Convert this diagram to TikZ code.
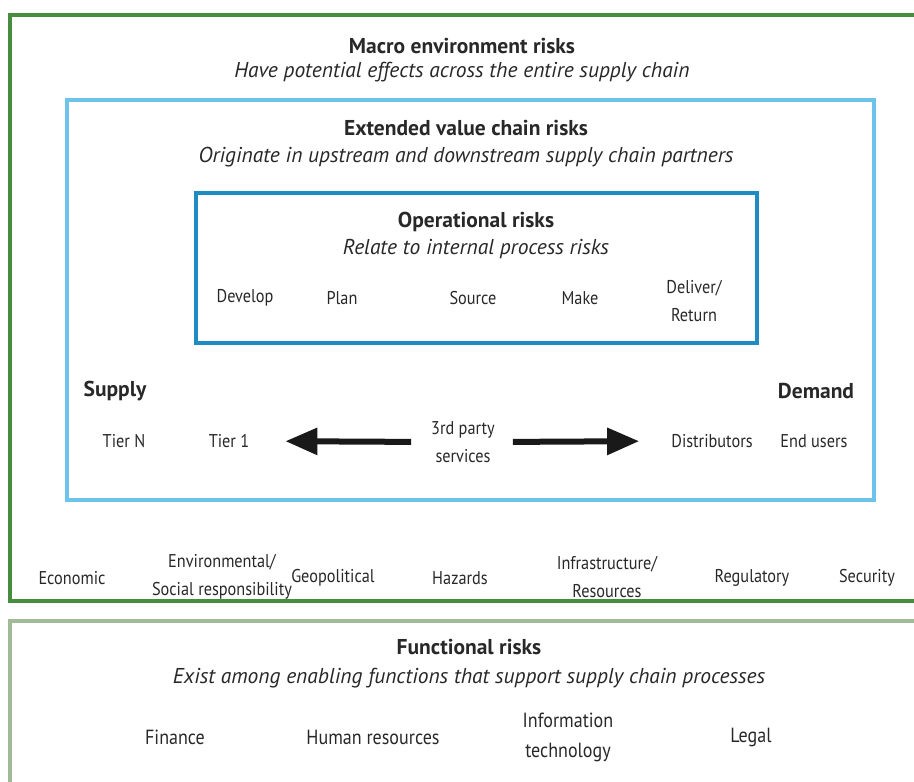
\documentclass[tikz,border=0pt]{standalone}
\usepackage{fontspec}
\setmainfont{PT Sans}
\newfontfamily\narrowfont{PT Sans}[FakeStretch=0.88]
\usetikzlibrary{arrows.meta}
\definecolor{macrogreen}{RGB}{72,140,64}
\definecolor{funcgreen}{RGB}{160,188,150}
\definecolor{lightblue}{RGB}{110,195,235}
\definecolor{opblue}{RGB}{30,140,195}
\definecolor{txt}{RGB}{40,40,40}
\tikzset{
  lbl/.style={text=txt, font=\narrowfont\fontsize{18.5}{28}\selectfont, align=center, inner sep=0pt},
  flbl/.style={text=txt, font=\narrowfont\fontsize{20.5}{30}\selectfont, align=center, inner sep=0pt},
  ttl/.style={text=txt, font=\fontsize{21.5}{24}\selectfont\bfseries, align=center, inner sep=0pt},
  sub/.style={text=txt, font=\fontsize{21.5}{24}\selectfont\itshape, align=center, inner sep=0pt},
  bigarrow/.style={line width=6pt, -{Triangle[length=32pt,width=26pt]}, black!90},
}
\begin{document}
\begin{tikzpicture}[x=1pt,y=-1pt]
\useasboundingbox (0,0) rectangle (914,782);
\clip (0,0) rectangle (914,782);
% boxes
\draw[macrogreen, line width=4pt] (930,15) -- (10,15) -- (10,601) -- (930,601);
\draw[funcgreen, line width=4pt] (930,621) -- (10,621) -- (10,800);
\draw[lightblue, line width=3.5pt] (67,100) rectangle (874,500);
\draw[opblue, line width=4pt] (196,193) rectangle (757,343);
% macro
\node[ttl] (macro) at (462,46) {Macro environment risks};
\node[sub] (macrosub) at (462,72) {Have potential effects across the entire supply chain};
% extended
\node[ttl] (ext) at (466,128) {Extended value chain risks};
\node[sub] (extsub) at (466,157) {Originate in upstream and downstream supply chain partners};
% operational
\node[ttl] (op) at (476,222) {Operational risks};
\node[sub] (opsub) at (476,249) {Relate to internal process risks};
\node[lbl] (develop) at (245,298) {Develop};
\node[lbl] (plan) at (342,298) {Plan};
\node[lbl] (source) at (473,298) {Source};
\node[lbl] (make) at (580,298) {Make};
\node[lbl] (deliver) at (694,301) {Deliver/\\Return};
% supply/demand
\node[ttl] (supply) at (115,391) {Supply};
\node[ttl] (demand) at (816,391) {Demand};
\node[lbl] (tiern) at (124,441) {Tier N};
\node[lbl] (tier1) at (229,441) {Tier 1};
\node[lbl] (third) at (463,442) {3rd party\\services};
\node[lbl] (distr) at (712,441) {Distributors};
\node[lbl] (endu) at (814,441) {End users};
\draw[bigarrow, shorten <=20pt, shorten >=36pt] (third.west) -- (tier1.east);
\draw[bigarrow, shorten <=18pt, shorten >=32pt] (third.east) -- (distr.west);
% macro categories
\node[lbl] (econ) at (72,578) {Economic};
\node[lbl] (envir) at (222,577) {Environmental/\\Social responsibility};
\node[lbl] (geo) at (333,578) {Geopolitical};
\node[lbl] (haz) at (460,578) {Hazards};
\node[lbl] (infra) at (607,577) {Infrastructure/\\Resources};
\node[lbl] (reg) at (752,578) {Regulatory};
\node[lbl] (sec) at (867,578) {Security};
% functional
\node[ttl] (func) at (469,647) {Functional risks};
\node[sub] (funcsub) at (469,678) {Exist among enabling functions that support supply chain processes};
\node[flbl] (fin) at (175,737) {Finance};
\node[flbl] (hr) at (373,737) {Human resources};
\node[flbl] (it) at (568,737) {Information\\technology};
\node[flbl] (legal) at (751,737) {Legal};
\end{tikzpicture}
\end{document}
